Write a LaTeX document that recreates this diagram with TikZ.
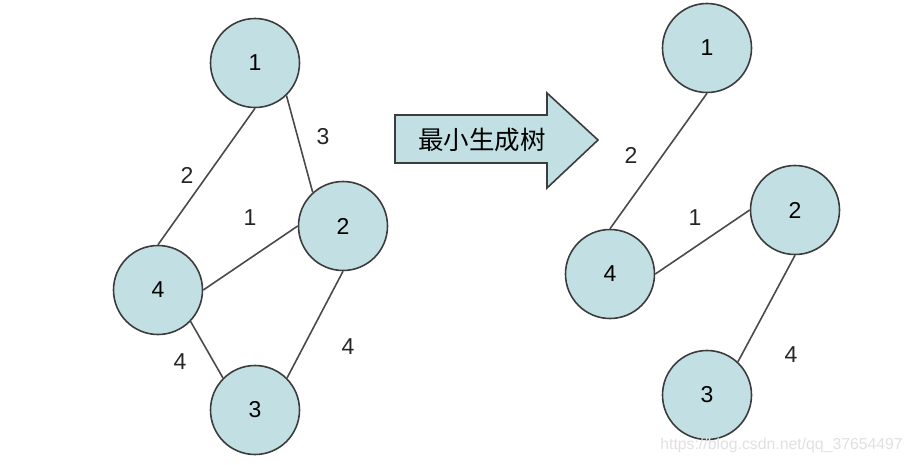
\documentclass[tikz,border=0pt]{standalone}
\usepackage{fontspec}
\setmainfont{Liberation Sans}
\newfontfamily\cjk{Noto Sans CJK SC}
\definecolor{nodefill}{HTML}{C2E0E3}
\definecolor{nodeline}{HTML}{3C3C3C}
\definecolor{edgeline}{HTML}{4A4A4A}
\definecolor{wm}{HTML}{E0E0E0}
\tikzset{
  vertex/.style={circle, draw=nodeline, fill=nodefill, line width=1.6pt, minimum size=89pt, inner sep=0pt, font=\fontsize{23}{23}\selectfont},
  edge/.style={draw=edgeline, line width=1.6pt},
  wlabel/.style={font=\fontsize{23}{23}\selectfont, text=black!85, inner sep=0pt},
  bigarrow/.style={draw=nodeline, fill=nodefill, line width=1.6pt, line join=miter}
}
\begin{document}
\begin{tikzpicture}[x=1pt,y=-1pt]
\useasboundingbox (0,0) rectangle (912,464);
% left graph
\node[vertex] (L1) at (255,63) {1};
\node[vertex] (L2) at (343,226) {2};
\node[vertex] (L4) at (158,290) {4};
\node[vertex] (L3) at (255,410) {3};
\draw[edge] (L1.south) -- (L4.north);
\draw[edge] (L1.-46) -- (L2.132);
\draw[edge] (L4.east) -- (L2.west);
\draw[edge] (L4.-44) -- (L3.135);
\draw[edge] (L2.south) -- (L3.45);
\node[wlabel] (l3) at (323,137) {3};
\node[wlabel] (l2) at (187,175) {2};
\node[wlabel] (l1) at (250,218) {1};
\node[wlabel] (l4a) at (348,347) {4};
\node[wlabel] (l4b) at (180,362) {4};
% arrow
\draw[bigarrow] (395,115) -- (547,115) -- (547,93) -- (598,140) -- (547,188) -- (547,163) -- (395,163) -- cycle;
\node[inner sep=0pt, font=\cjk\fontsize{25.5}{25.5}\selectfont] (title) at (482,140) {最小生成树};
% right graph
\node[vertex] (R1) at (707,48) {1};
\node[vertex] (R2) at (795,210) {2};
\node[vertex] (R4) at (610,274) {4};
\node[vertex] (R3) at (707,395) {3};
\draw[edge] (R1.south) -- (R4.north);
\draw[edge] (R4.east) -- (R2.west);
\draw[edge] (R2.south) -- (R3.47);
\node[wlabel] (r2) at (631,155) {2};
\node[wlabel] (r1) at (695,218) {1};
\node[wlabel] (r4) at (791,355) {4};
% watermark
\node[anchor=east, inner sep=0pt, text=wm, font=\fontsize{15.8}{15.8}\selectfont] (wmark) at (903,445) {https://blog.csdn.net/qq\_37654497};
\end{tikzpicture}
\end{document}
